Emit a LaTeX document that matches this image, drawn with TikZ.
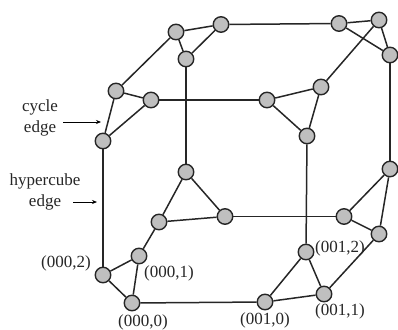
\documentclass[tikz,border=0pt]{standalone}
\usepackage{fontspec}
\setmainfont{Liberation Serif}
\usetikzlibrary{arrows.meta}
\definecolor{nodegray}{RGB}{191,191,191}

\begin{document}
\begin{tikzpicture}[
    x=1pt, y=-1pt,
    vert/.style={circle, draw=black!85, fill=nodegray, line width=1.4pt,
        minimum size=15.5pt, inner sep=0pt},
    edge/.style={line width=1.5pt, black!85},
    arr/.style={-{Stealth[length=5pt,width=4pt]}, line width=0.7pt},
    lbl/.style={font=\fontsize{17}{20}\selectfont, text=black!85, inner sep=0pt, align=center}
]
\useasboundingbox (0,0) rectangle (398,329);

% cube 000
\node[vert] (a0) at (132,303) {};
\node[vert] (a1) at (139,256) {};
\node[vert] (a2) at (103,275) {};
% cube 001
\node[vert] (b0) at (265,302) {};
\node[vert] (b1) at (324,294) {};
\node[vert] (b2) at (306,252) {};
% cube 010
\node[vert] (c0) at (159,222) {};
\node[vert] (c1) at (186,172) {};
\node[vert] (c2) at (225,216.5) {};
% cube 011
\node[vert] (d0) at (344,216.5) {};
\node[vert] (d1) at (379,234) {};
\node[vert] (d2) at (390,169) {};
% cube 100
\node[vert] (e0) at (116,91) {};
\node[vert] (e1) at (151,100) {};
\node[vert] (e2) at (103,141) {};
% cube 101
\node[vert] (f0) at (267,100) {};
\node[vert] (f1) at (321,87) {};
\node[vert] (f2) at (307,136) {};
% cube 110
\node[vert] (g0) at (176,32) {};
\node[vert] (g1) at (186,59) {};
\node[vert] (g2) at (221,24.5) {};
% cube 111
\node[vert] (h0) at (339,23.5) {};
\node[vert] (h1) at (379,20) {};
\node[vert] (h2) at (390,55) {};

% cycle edges
\draw[edge] (a0) -- (a1) -- (a2) -- (a0);
\draw[edge] (b0) -- (b1) -- (b2) -- (b0);
\draw[edge] (c0) -- (c1) -- (c2) -- (c0);
\draw[edge] (d0) -- (d1) -- (d2) -- (d0);
\draw[edge] (e0) -- (e1) -- (e2) -- (e0);
\draw[edge] (f0) -- (f1) -- (f2) -- (f0);
\draw[edge] (g0) -- (g1) -- (g2) -- (g0);
\draw[edge] (h0) -- (h1) -- (h2) -- (h0);

% hypercube edges
\draw[edge] (a0) -- (b0);
\draw[edge] (a1) -- (c0);
\draw[edge] (a2) -- (e2);
\draw[edge] (b1) -- (d1);
\draw[edge] (b2) -- (f2);
\draw[edge] (c1) -- (g1);
\draw[edge] (c2) -- (d0);
\draw[edge] (d2) -- (h2);
\draw[edge] (e0) -- (g0);
\draw[edge] (e1) -- (f0);
\draw[edge] (f1) -- (h1);
\draw[edge] (g2) -- (h0);

% labels
\node[lbl] (cyc) at (40,118) {cycle\\[1pt]edge};
\node[lbl] (hyp) at (45,192) {hypercube\\[1pt]edge};
\node[lbl] (a2lbl) at (66,263) {(000,2)};
\node[lbl] (a1lbl) at (169,273) {(000,1)};
\node[lbl] (a0lbl) at (143,322) {(000,0)};
\node[lbl] (b0lbl) at (265,320) {(001,0)};
\node[lbl] (b1lbl) at (340,311) {(001,1)};
\node[lbl] (b2lbl) at (340,248) {(001,2)};

\coordinate (cyctip) at (101,122);
\coordinate (hyptip) at (97,202);
\coordinate (cycend) at (63,122);
\coordinate (hypend) at (73,202);
\draw[arr] (cycend) -- (cyctip);
\draw[arr] (hypend) -- (hyptip);
\end{tikzpicture}
\end{document}
